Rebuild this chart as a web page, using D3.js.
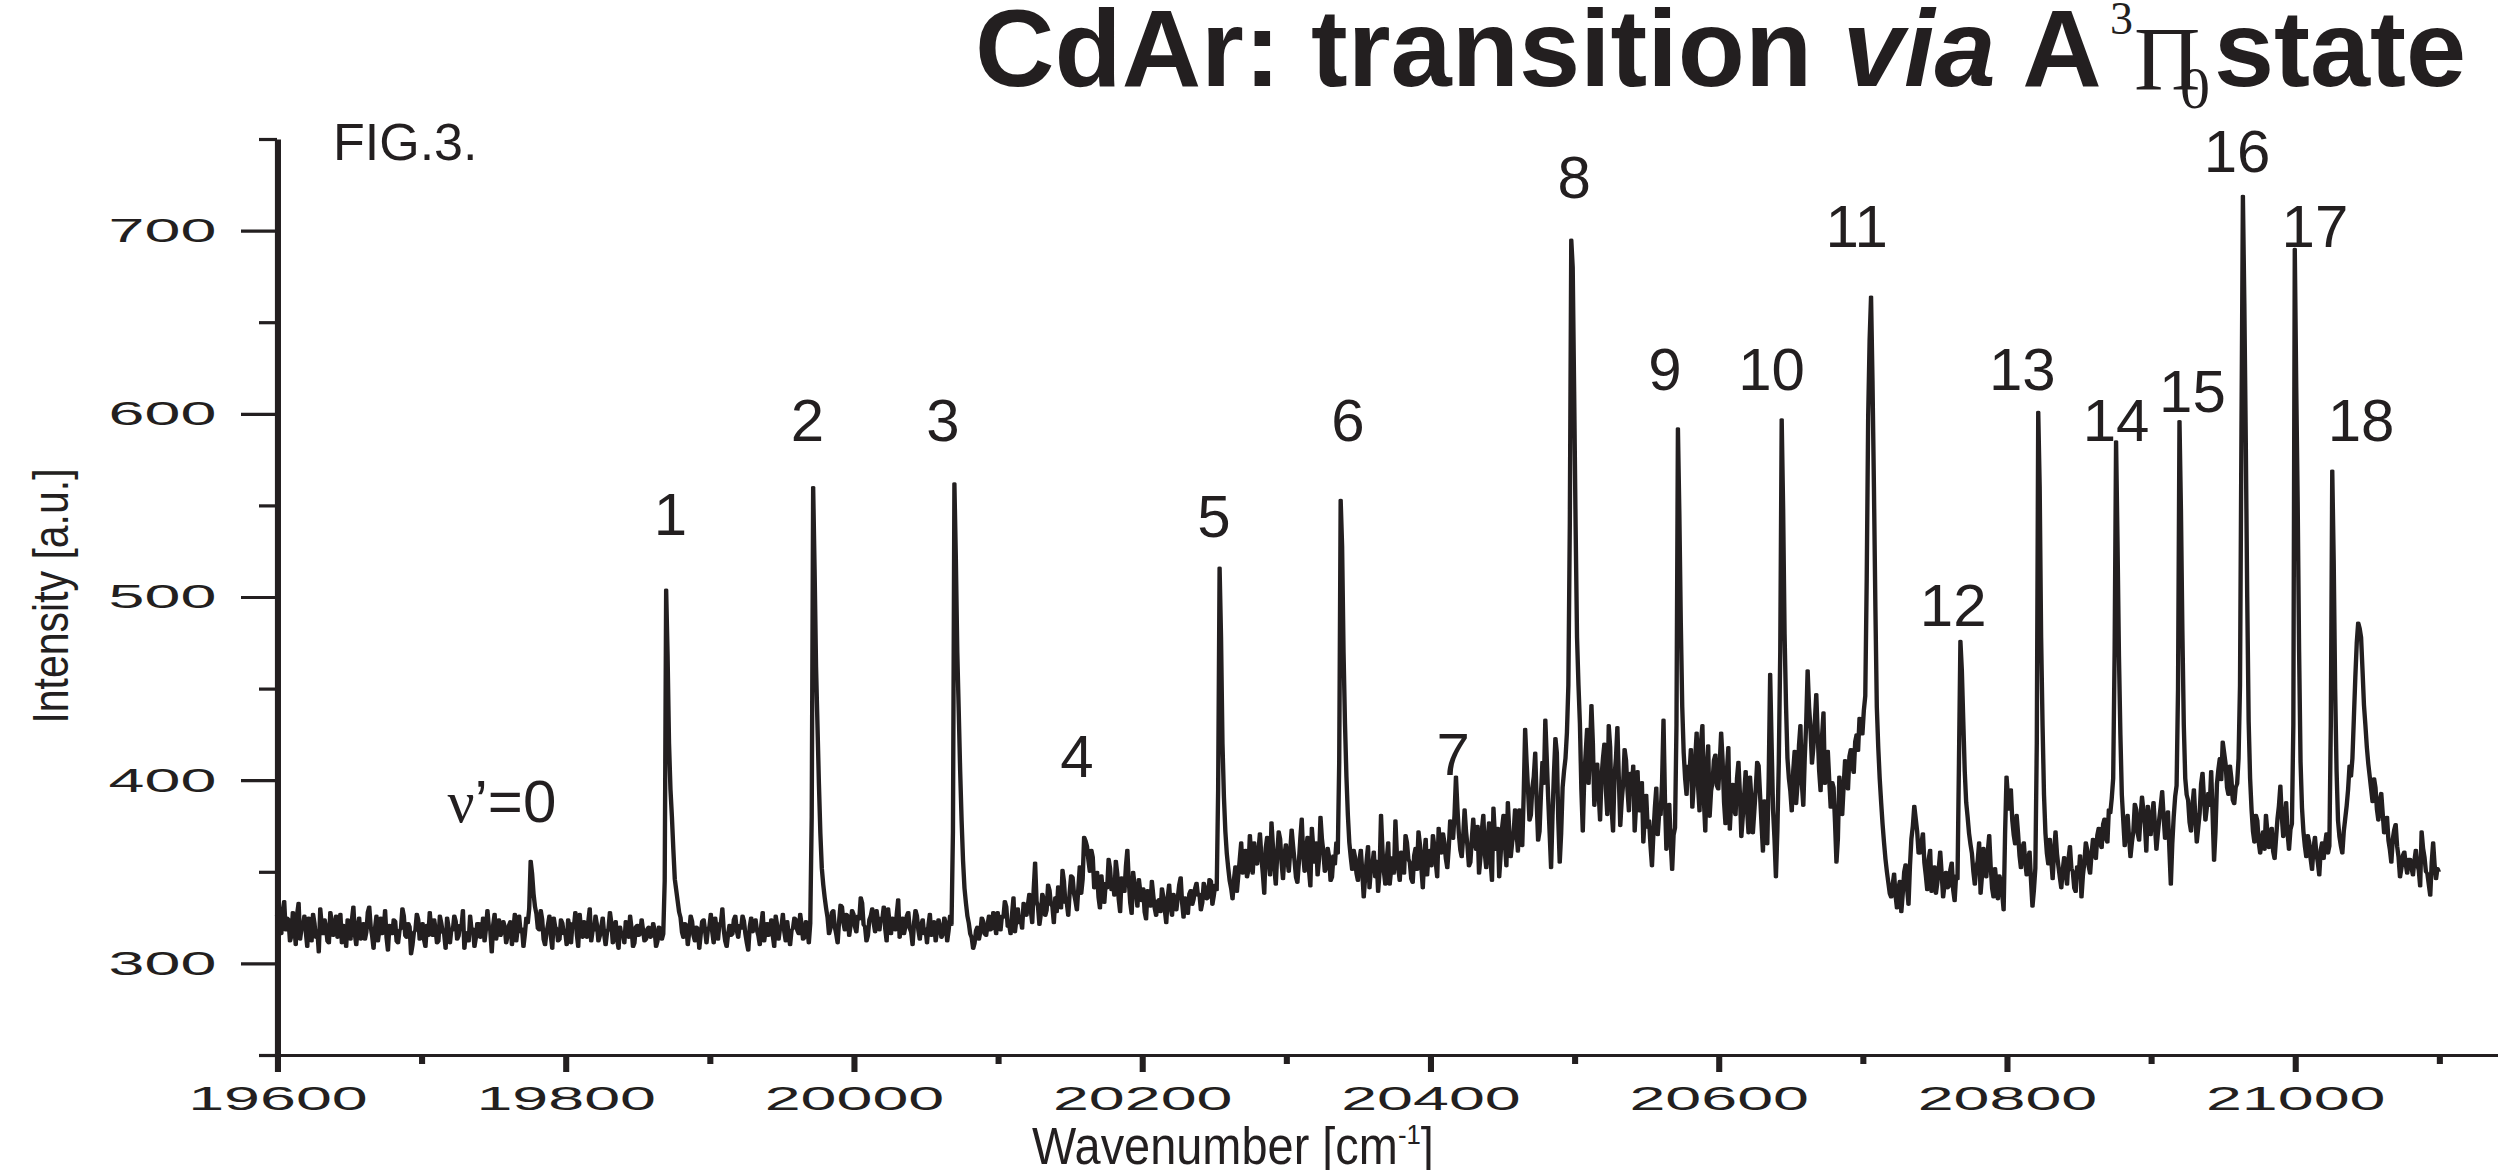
<!DOCTYPE html>
<html>
<head>
<meta charset="utf-8">
<script src="https://cdn.jsdelivr.net/npm/d3@7"></script>
<style>
  html, body { margin: 0; padding: 0; background: #fff; overflow: hidden; }
  svg { display: block; }
  text { white-space: pre; }
</style>
</head>
<body>
<svg width="2498" height="1170"></svg>
<script>
// spectrum, every 1 cm-1 starting at 19600 (20 values per row)
var waveStart = 19600,
    waveStep = 1;

var intensity = [
  326, 331, 322, 316, 329, 334, 318, 325, 324, 312, 315, 328, 321, 310, 327, 333, 313, 319, 320, 326,  // 19600
  317, 309, 325, 318, 312, 327, 322, 314, 318, 306, 330, 321, 316, 324, 320, 312, 311, 328, 323, 315,
  319, 326, 314, 322, 327, 311, 321, 317, 309, 324, 318, 313, 324, 331, 316, 310, 320, 325, 313, 318,
  322, 313, 317, 328, 331, 320, 315, 308, 319, 326, 312, 318, 325, 316, 318, 329, 314, 307, 321, 317,
  316, 324, 323, 312, 311, 318, 319, 330, 326, 315, 314, 322, 320, 305, 310, 317, 318, 327, 324, 313,
  317, 322, 313, 309, 321, 315, 328, 318, 315, 324, 319, 311, 312, 326, 322, 317, 316, 308, 325, 320,  // 19700
  311, 319, 318, 326, 323, 313, 315, 321, 320, 329, 308, 316, 317, 312, 326, 318, 319, 309, 314, 322,
  322, 314, 316, 325, 312, 319, 329, 320, 318, 306, 321, 327, 313, 318, 324, 315, 317, 323, 320, 311,
  315, 321, 323, 310, 318, 327, 312, 319, 326, 317, 319, 309, 316, 325, 322, 330, 356, 349, 338, 331,
  327, 319, 318, 329, 324, 313, 310, 317, 321, 326, 315, 308, 325, 320, 319, 312, 313, 324, 322, 316,
  317, 310, 324, 319, 311, 322, 320, 328, 316, 309, 327, 318, 314, 323, 319, 314, 323, 330, 312, 318,  // 19800
  318, 326, 321, 312, 315, 320, 325, 316, 310, 317, 319, 328, 322, 311, 316, 323, 313, 308, 320, 315,
  317, 311, 323, 318, 314, 326, 319, 309, 311, 320, 321, 315, 316, 324, 318, 312, 313, 319, 320, 314,
  315, 322, 318, 309, 312, 320, 319, 313, 316, 345, 504, 468, 420, 395, 380, 362, 346, 340, 334, 328,
  325, 317, 314, 322, 321, 310, 317, 326, 323, 315, 312, 320, 319, 308, 316, 323, 324, 318, 311, 319,
  320, 327, 317, 311, 325, 319, 313, 322, 322, 330, 318, 312, 309, 316, 321, 315, 316, 324, 326, 318,  // 19900
  314, 321, 319, 326, 323, 316, 311, 307, 320, 325, 317, 322, 324, 318, 315, 310, 321, 328, 312, 318,
  322, 315, 318, 324, 315, 309, 326, 321, 313, 319, 320, 327, 317, 312, 323, 316, 310, 318, 319, 325,
  324, 318, 316, 327, 321, 313, 314, 323, 319, 311, 322, 380, 560, 515, 462, 430, 398, 371, 352, 343,
  336, 330, 325, 316, 319, 328, 329, 320, 316, 311, 323, 332, 331, 322, 318, 327, 326, 315, 321, 329,
  327, 320, 317, 326, 324, 336, 333, 321, 320, 312, 315, 324, 326, 330, 322, 317, 329, 323, 318, 325,  // 20000
  324, 331, 319, 312, 330, 322, 316, 325, 323, 318, 327, 335, 314, 320, 325, 316, 320, 326, 328, 319,
  317, 310, 322, 329, 326, 318, 313, 321, 324, 316, 319, 311, 321, 327, 315, 322, 323, 312, 318, 324,
  320, 314, 316, 325, 322, 312, 318, 326, 321, 372, 562, 521, 470, 438, 405, 378, 356, 341, 333, 326,
  322, 316, 314, 308, 311, 318, 320, 313, 317, 325, 323, 316, 315, 321, 326, 318, 319, 328, 322, 316,
  328, 321, 318, 326, 325, 334, 331, 320, 321, 316, 327, 336, 317, 324, 330, 322, 324, 319, 333, 327,  // 20100
  326, 332, 338, 329, 322, 340, 355, 334, 331, 321, 327, 338, 335, 326, 329, 343, 340, 332, 331, 322,
  336, 328, 342, 337, 330, 351, 345, 333, 333, 326, 339, 348, 347, 338, 334, 329, 341, 353, 338, 346,
  369, 367, 364, 356, 350, 362, 358, 341, 343, 350, 336, 330, 348, 339, 333, 344, 341, 357, 352, 340,
  344, 337, 356, 349, 335, 328, 347, 341, 339, 353, 362, 345, 333, 327, 350, 343, 338, 331, 346, 339,
  334, 341, 328, 324, 340, 333, 331, 345, 337, 330, 326, 334, 335, 328, 341, 336, 329, 322, 336, 343,  // 20200
  331, 326, 338, 333, 329, 336, 343, 347, 333, 325, 336, 330, 327, 338, 340, 332, 335, 341, 344, 337,
  338, 329, 333, 344, 341, 335, 336, 346, 345, 332, 337, 343, 340, 395, 516, 478, 420, 391, 372, 360,
  352, 345, 341, 335, 346, 353, 339, 348, 357, 366, 349, 358, 362, 347, 351, 370, 358, 349, 366, 355,
  354, 362, 371, 358, 349, 338, 363, 369, 357, 348, 377, 364, 352, 343, 360, 372, 368, 355, 346, 359,
  365, 357, 350, 361, 373, 364, 356, 347, 344, 355, 368, 379, 359, 350, 362, 369, 351, 342, 374, 363,  // 20300
  355, 366, 348, 357, 380, 368, 361, 350, 352, 363, 358, 345, 347, 359, 354, 366, 360, 410, 553, 528,
  470, 431, 402, 381, 366, 358, 351, 362, 358, 349, 345, 356, 362, 350, 336, 347, 356, 364, 341, 352,
  354, 361, 347, 356, 339, 350, 381, 362, 350, 343, 357, 366, 343, 351, 358, 349, 378, 360, 352, 345,
  361, 354, 349, 370, 366, 357, 355, 346, 344, 359, 363, 351, 372, 365, 352, 341, 359, 368, 348, 360,
  362, 353, 370, 364, 355, 347, 374, 362, 360, 371, 366, 357, 352, 363, 378, 369, 368, 381, 402, 385,  // 20400
  371, 362, 358, 369, 384, 372, 364, 353, 355, 368, 379, 366, 362, 375, 349, 358, 373, 381, 360, 352,
  368, 377, 356, 345, 385, 370, 362, 374, 347, 359, 374, 381, 365, 353, 388, 372, 358, 366, 371, 384,
  372, 361, 384, 376, 364, 392, 428, 410, 395, 378, 381, 396, 402, 415, 388, 367, 372, 393, 410, 398,
  433, 412, 390, 371, 352, 381, 404, 423, 415, 378, 355, 371, 396, 405, 412, 426, 452, 540, 695, 680,
  612, 540, 478, 452, 431, 395, 372, 401, 415, 428, 398, 416, 441, 420, 386, 397, 409, 393, 378, 402,  // 20500
  412, 420, 395, 381, 430, 418, 384, 372, 402, 412, 429, 401, 375, 389, 398, 417, 411, 395, 383, 404,
  394, 408, 372, 387, 405, 383, 388, 399, 366, 380, 392, 374, 378, 364, 353, 371, 385, 396, 370, 382,
  381, 399, 433, 390, 362, 376, 387, 366, 351, 370, 374, 430, 592, 545, 486, 440, 415, 401, 392, 408,
  403, 417, 385, 398, 412, 426, 396, 383, 421, 430, 389, 372, 407, 419, 380, 394, 399, 411, 414, 397,
  395, 409, 426, 411, 388, 376, 405, 418, 373, 389, 398, 384, 381, 401, 410, 393, 369, 380, 392, 405,  // 20600
  384, 371, 402, 390, 371, 383, 395, 410, 408, 392, 376, 361, 389, 380, 365, 402, 458, 420, 384, 368,
  347, 372, 410, 470, 597, 548, 480, 441, 412, 401, 394, 383, 405, 416, 387, 398, 419, 430, 398, 386,
  412, 431, 460, 440, 428, 409, 418, 432, 447, 425, 405, 394, 424, 437, 398, 411, 416, 400, 385, 399,
  396, 377, 355, 368, 402, 390, 381, 397, 411, 402, 395, 413, 417, 408, 404, 421, 425, 416, 434, 429,
  425, 438, 446, 510, 598, 640, 664, 618, 560, 495, 440, 418, 401, 388, 376, 366, 357, 350, 344, 338,  // 20700
  336, 343, 349, 337, 330, 341, 345, 328, 338, 350, 354, 341, 332, 353, 368, 375, 386, 379, 372, 360,
  360, 366, 371, 355, 348, 340, 357, 362, 339, 346, 353, 338, 344, 352, 361, 349, 336, 343, 350, 341,
  342, 351, 355, 340, 334, 348, 346, 410, 476, 460, 432, 405, 388, 380, 371, 365, 360, 350, 343, 352,
  356, 366, 338, 348, 363, 351, 347, 361, 370, 353, 341, 336, 352, 344, 335, 348, 345, 338, 329, 371,
  402, 391, 384, 395, 378, 370, 365, 381, 371, 359, 352, 363, 366, 355, 348, 357, 361, 345, 331, 340,  // 20800
  352, 420, 601, 560, 478, 430, 392, 371, 360, 354, 368, 357, 346, 361, 372, 360, 353, 347, 341, 351,
  358, 349, 343, 357, 364, 352, 350, 341, 339, 353, 347, 359, 336, 348, 355, 366, 362, 353, 349, 360,
  368, 361, 357, 370, 374, 365, 363, 376, 379, 368, 366, 384, 382, 390, 401, 470, 585, 530, 468, 425,
  392, 378, 364, 373, 381, 369, 358, 366, 372, 387, 384, 371, 367, 380, 391, 383, 376, 361, 386, 377,
  370, 381, 388, 375, 362, 371, 379, 386, 394, 380, 368, 376, 383, 362, 343, 365, 380, 391, 397, 450,  // 20900
  596, 548, 482, 430, 401, 392, 389, 377, 372, 386, 395, 380, 366, 374, 382, 398, 404, 390, 378, 385,
  393, 386, 405, 381, 356, 372, 398, 406, 412, 400, 421, 415, 409, 396, 392, 408, 401, 389, 387, 396,
  398, 412, 452, 590, 719, 660, 585, 500, 432, 401, 384, 372, 366, 381, 378, 366, 360, 368, 372, 362,
  381, 372, 363, 370, 374, 361, 357, 368, 379, 386, 397, 380, 369, 377, 388, 371, 362, 373, 376, 430,
  690, 615, 552, 470, 410, 385, 372, 364, 358, 370, 366, 357, 351, 363, 369, 360, 355, 348, 362, 366,  // 21000
  357, 365, 371, 360, 364, 430, 569, 520, 450, 405, 378, 369, 364, 360, 372, 379, 386, 395, 408, 402,
  412, 434, 456, 475, 486, 483, 478, 460, 441, 430, 418, 409, 402, 395, 388, 401, 396, 384, 378, 389,
  393, 382, 371, 376, 380, 367, 362, 355, 368, 373, 376, 364, 358, 347, 352, 359, 361, 354, 349, 357,
  357, 352, 348, 356, 362, 354, 351, 342, 372, 363, 358, 350, 349, 343, 337, 355, 366, 354, 346, 352,
  350                                                                                                  // 21100
];

// band labels: text, wavenumber and intensity where each one sits
var peakLabels = ["ν’=0", "1", "2", "3", "4", "5", "6", "7", "8", "9",
                  "10", "11", "12", "13", "14", "15", "16", "17", "18"];
var labelWave = [19756, 19873, 19968, 20062, 20155, 20250, 20343, 20416, 20500, 20563,
                 20637, 20696, 20763, 20811, 20876, 20929, 20960, 21014, 21046];
var labelLevel = [377, 534, 585, 585, 402, 533, 585, 403, 718, 613,
                  613, 691, 484, 613, 585, 601, 732, 691, 585];

var xMajorTicks = [19600, 19800, 20000, 20200, 20400, 20600, 20800, 21000];
var xMinorTicks = [19700, 19900, 20100, 20300, 20500, 20700, 20900, 21100];
var yMajorTicks = [300, 400, 500, 600, 700];
var yMinorTicks = [250, 350, 450, 550, 650, 750];

var ink = "#231f20",
    sans = "'Liberation Sans', Arial, sans-serif",
    serif = "'Liberation Serif', 'Times New Roman', serif";

var svg = d3.select("svg"),
    width = +svg.attr("width"),
    height = +svg.attr("height");

// the plotted frame of the original is stretched sideways,
// so axes and trace are drawn in a group scaled by SX
var SX = 1.9;

var x = d3.scaleLinear().domain([19600, 21141]).range([277, width]),
    y = d3.scaleLinear().domain([250, 750]).range([1055, 139]);

var xs = x.copy().range(x.range().map(function(v) { return v / SX; }));

var plot = svg.append("g").attr("transform", "scale(" + SX + ",1)");

function styleAxis(g) {
  g.select(".domain").attr("stroke", ink).attr("stroke-width", 3.2);
  g.selectAll(".tick line").attr("stroke", ink).attr("stroke-width", 3.2);
  g.selectAll(".tick text")
      .attr("fill", ink)
      .style("font-family", sans)
      .style("font-size", "34px");
}

// x axis
plot.append("g")
    .attr("transform", "translate(0," + y(250) + ")")
    .call(d3.axisBottom(xs).tickValues(xMinorTicks).tickSize(9).tickFormat(""))
    .call(styleAxis)
    .select(".domain").remove();

plot.append("g")
    .attr("transform", "translate(0," + y(250) + ")")
    .call(d3.axisBottom(xs).tickValues(xMajorTicks).tickSize(17).tickSizeOuter(0)
            .tickPadding(14).tickFormat(d3.format("d")))
    .call(styleAxis);

// y axis
plot.append("g")
    .attr("transform", "translate(" + xs(19600) + ",0)")
    .call(d3.axisLeft(y).tickValues(yMinorTicks).tickSize(18 / SX).tickFormat(""))
    .call(styleAxis)
    .select(".domain").remove();

plot.append("g")
    .attr("transform", "translate(" + xs(19600) + ",0)")
    .call(d3.axisLeft(y).tickValues(yMajorTicks).tickSize(36 / SX).tickSizeOuter(0)
            .tickPadding(13))
    .call(styleAxis);

// the trace
var spectrum = intensity.map(function(v, i) { return [waveStart + i * waveStep, v]; });

var line = d3.line()
    .x(function(d) { return xs(d[0]); })
    .y(function(d) { return y(d[1]); });

plot.append("path")
    .datum(spectrum)
    .attr("d", line)
    .attr("fill", "none")
    .attr("stroke", ink)
    .attr("stroke-width", 2.3)
    .attr("stroke-linejoin", "round");

// band numbers
svg.append("g").selectAll("text")
    .data(peakLabels)
  .enter().append("text")
    .attr("x", function(d, i) { return x(labelWave[i]); })
    .attr("y", function(d, i) { return y(labelLevel[i]); })
    .attr("text-anchor", "middle")
    .attr("fill", ink)
    .style("font-family", sans)
    .style("font-size", "60px")
    .each(function(d) {
      var t = d3.select(this);
      if (d.charAt(0) === "ν") {
        t.append("tspan").style("font-family", serif).text("ν");
        t.append("tspan").text(d.slice(1));
      } else {
        t.text(d);
      }
    });

// title, pieced together like the original
var titleG = svg.append("g").attr("fill", ink);

var title = titleG.append("text")
    .attr("x", 975)
    .attr("y", 86)
    .style("font-family", sans)
    .style("font-size", "110px")
    .style("font-weight", "bold");
title.append("tspan").text("CdAr: transition ");
title.append("tspan").style("font-style", "italic").text("via");
title.append("tspan").text(" A");

titleG.append("text")
    .attr("x", 2110).attr("y", 34)
    .style("font-family", serif).style("font-size", "46px")
    .text("3");
titleG.append("text")
    .attr("x", 2134).attr("y", 90)
    .style("font-family", serif).style("font-size", "92px")
    .text("Π");
titleG.append("text")
    .attr("x", 2180).attr("y", 108)
    .style("font-family", serif).style("font-size", "60px")
    .text("0");
titleG.append("text")
    .attr("x", 2466).attr("y", 86)
    .attr("text-anchor", "end")
    .style("font-family", sans).style("font-size", "108px").style("font-weight", "bold")
    .text("state");

svg.append("text")
    .attr("x", 333)
    .attr("y", 160)
    .attr("fill", ink)
    .style("font-family", sans)
    .style("font-size", "52px")
    .text("FIG.3.");

// axis titles
svg.append("text")
    .attr("transform", "translate(68,596) scale(1.2,1) rotate(-90)")
    .attr("text-anchor", "middle")
    .attr("fill", ink)
    .style("font-family", sans)
    .style("font-size", "41px")
    .text("Intensity [a.u.]");

var xTitle = svg.append("text")
    .attr("transform", "translate(1032,1164) scale(0.92,1)")
    .attr("fill", ink)
    .style("font-family", sans)
    .style("font-size", "51px");
xTitle.append("tspan").text("Wavenumber [cm");
xTitle.append("tspan").attr("dy", -20).style("font-size", "28px").text("-1");
xTitle.append("tspan").attr("dy", 20).text("]");
</script>
</body>
</html>
